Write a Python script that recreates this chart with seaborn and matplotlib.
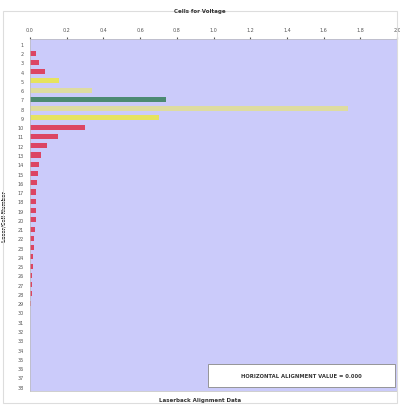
import matplotlib
matplotlib.use('Agg')
import matplotlib.pyplot as plt
import pandas as pd
import seaborn as sns

# values (row 1 at the top)
cells = [str(i) for i in range(1, 39)]
voltage = [0.0, 0.03, 0.05, 0.08, 0.16, 0.34, 0.74, 1.73, 0.70, 0.30,
           0.15, 0.09, 0.06, 0.05, 0.045, 0.04, 0.035, 0.035, 0.03, 0.03,
           0.025, 0.02, 0.02, 0.015, 0.015, 0.01, 0.01, 0.01, 0.005, 0.0,
           0.0, 0.0, 0.0, 0.0, 0.0, 0.0, 0.0, 0.0]
bar_kind = ['red'] * 38
bar_kind[4] = 'yellow'
bar_kind[5] = 'pale'
bar_kind[6] = 'green'
bar_kind[7] = 'pale'
bar_kind[8] = 'yellow'
x_ticks = [0.0, 0.2, 0.4, 0.6, 0.8, 1.0, 1.2, 1.4, 1.6, 1.8, 2.0]

kind_colors = {'red': '#dc4563', 'yellow': '#e6e35e', 'pale': '#dedca0', 'green': '#4c8a72'}

df = pd.DataFrame({'cell': cells, 'voltage': voltage, 'kind': bar_kind})

sns.set_style('white')
fig = plt.figure(figsize=(4.0, 4.06), dpi=100)
ax = fig.add_axes([0.075, 0.034, 0.918, 0.867])
ax.set_facecolor('#cbcbfa')

sns.barplot(data=df, x='voltage', y='cell', hue='kind', palette=kind_colors,
            orient='h', width=0.55, dodge=False, legend=False, ax=ax,
            linewidth=0, saturation=1)

ax.set_xlim(0, 2.0)
ax.set_xticks(x_ticks)
ax.set_xticklabels([f'{t:.1f}' for t in x_ticks])
ax.xaxis.tick_top()
ax.xaxis.set_label_position('top')
ax.tick_params(axis='x', labelsize=3.5, colors='#555555', length=1.5, pad=4)
ax.tick_params(axis='y', labelsize=3.5, colors='#555555', length=1.5, pad=3)
ax.set_xlabel('')
ax.set_ylabel('Laser/Cell Number', fontsize=3.5, fontweight='bold', labelpad=8)
for s in ax.spines.values():
    s.set_color('#bbbbbb')
    s.set_linewidth(0.5)

fig.text(0.5, 0.972, 'Cells for Voltage', ha='center', va='center',
         fontsize=4, fontweight='bold', color='#333333')
fig.text(0.5, 0.013, 'Laserback Alignment Data', ha='center', va='center',
         fontsize=4, fontweight='bold', color='#333333')

# value box in the lower right
box = plt.Rectangle((0.485, 0.011), 0.51, 0.066, transform=ax.transAxes,
                    facecolor='white', edgecolor='#888888', linewidth=0.6, zorder=2)
ax.add_patch(box)
ax.text(0.74, 0.044, 'HORIZONTAL ALIGNMENT VALUE = 0.000', transform=ax.transAxes,
        ha='center', va='center', fontsize=3.8, fontweight='bold', color='#333333',
        zorder=3)

# light outer frame
fig.patches.append(plt.Rectangle((0.008, 0.005), 0.985, 0.965, transform=fig.transFigure,
                                 fill=False, edgecolor='#dddddd', linewidth=0.8))

plt.savefig('out.png', dpi=100)
